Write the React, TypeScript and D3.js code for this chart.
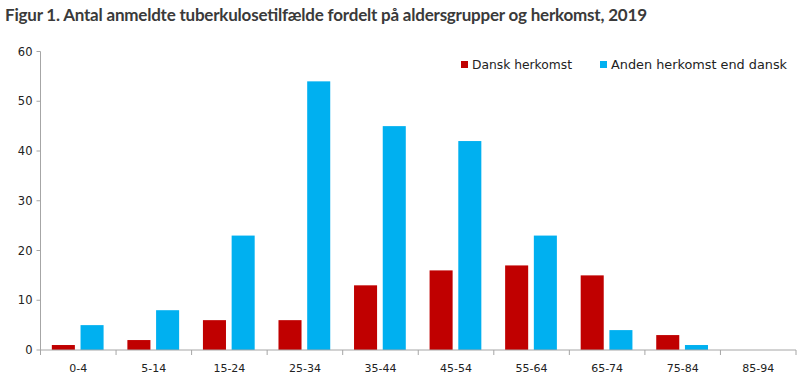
import React from "react";
import * as d3 from "d3";

const categories = ["0-4", "5-14", "15-24", "25-34", "35-44", "45-54", "55-64", "65-74", "75-84", "85-94"];
const danskValues = [1, 2, 6, 6, 13, 16, 17, 15, 3, 0];
const andenValues = [5, 8, 23, 54, 45, 42, 23, 4, 1, 0];
const yTicks = [0, 10, 20, 30, 40, 50, 60];
const seriesNames = ["Dansk herkomst", "Anden herkomst end dansk"];
const colors = ["#C00000", "#00B0F0"];

const W = 800;
const H = 381;
const left = 40.5;
const right = 796;
const top = 51.5;
const bottom = 350;
const font = "'DejaVu Sans', sans-serif";

export default function App() {
  const x = d3.scaleBand<string>().domain(categories).range([left, right]).padding(0);
  const y = d3.scaleLinear().domain([0, 60]).range([bottom, top]);
  const bw = x.bandwidth();
  const barW = bw * 0.305;
  const off = bw * 0.15;
  const gap = bw * 0.075;
  const series = [danskValues, andenValues];
  const legendLen = [100, 176];
  return (
    <svg width={W} height={H} style={{ position: "absolute", left: 0, top: 0, background: "#fff" }}>
      <text x={5} y={21} fontFamily="'Lato', sans-serif" fontWeight="bold" fontSize={17} fill="#3a3a3a" textLength={642} lengthAdjust="spacing">
        Figur 1. Antal anmeldte tuberkulosetilfælde fordelt på aldersgrupper og herkomst, 2019
      </text>
      {series.map((vals, si) =>
        vals.map((v, i) =>
          v > 0 ? (
            <rect
              key={`${si}-${i}`}
              x={(x(categories[i]) as number) + off + si * (barW + gap)}
              y={y(v)}
              width={barW}
              height={y(0) - y(v)}
              fill={colors[si]}
            />
          ) : null
        )
      )}
      <line x1={left} x2={left} y1={top} y2={bottom} stroke="#a6a6a6" strokeWidth={1} />
      <line x1={left} x2={right} y1={bottom} y2={bottom} stroke="#a6a6a6" strokeWidth={1} />
      {yTicks.map((t) => (
        <g key={t}>
          <line x1={left - 4} x2={left} y1={y(t)} y2={y(t)} stroke="#a6a6a6" />
          <text x={left - 8} y={y(t) + 4} textAnchor="end" fontFamily={font} fontSize={11.5} fill="#222">
            {t}
          </text>
        </g>
      ))}
      {categories.map((c, i) => (
        <line key={"t" + i} x1={x(c) as number} x2={x(c) as number} y1={bottom} y2={bottom + 5} stroke="#a6a6a6" />
      ))}
      <line x1={right} x2={right} y1={bottom} y2={bottom + 5} stroke="#a6a6a6" />
      {categories.map((c) => (
        <text
          key={c}
          x={(x(c) as number) + bw / 2}
          y={372}
          textAnchor="middle"
          fontFamily={font}
          fontSize={11}
          fill="#222"
        >
          {c}
        </text>
      ))}
      {seriesNames.map((n, i) => {
        const lx = i === 0 ? 461 : 600;
        return (
          <g key={n}>
            <rect x={lx} y={61} width={7} height={7} fill={colors[i]} />
            <text x={lx + 11} y={69} fontFamily={font} fontSize={12} fill="#222" textLength={legendLen[i]} lengthAdjust="spacingAndGlyphs">
              {n}
            </text>
          </g>
        );
      })}
    </svg>
  );
}
